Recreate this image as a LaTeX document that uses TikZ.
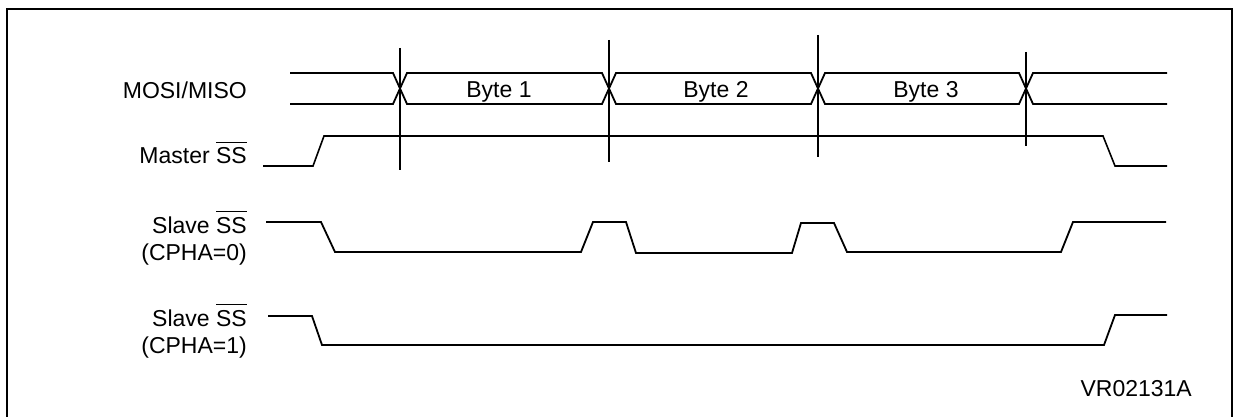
\documentclass[tikz,border=0pt]{standalone}
\usepackage{fontspec}
\setmainfont{Liberation Sans}
\newcommand{\ssbar}{\leavevmode\vbox{\hrule height 1.4pt\kern 4.5pt\hbox{SS}}}

\begin{document}
\begin{tikzpicture}[x=1pt, y=-1pt, line join=miter,
    sig/.style={line width=1.8pt},
    cursor/.style={line width=2.4pt},
    lbl/.style={anchor=base east, inner sep=0pt, font=\fontsize{23}{27}\selectfont},
    bytelbl/.style={anchor=base, inner sep=0pt, font=\fontsize{23}{27}\selectfont}]
  \useasboundingbox (0,0) rectangle (1237,417);
  \draw[line width=2.6pt] (7,9) rectangle (1232,440);

  \draw[sig] (290,73) -- (393,73) -- (407,104) -- (602,104) -- (616,73) -- (811,73)
    -- (825,104) -- (1019,104) -- (1033,73) -- (1167,73);
  \draw[sig] (290,104) -- (393,104) -- (407,73) -- (602,73) -- (616,104) -- (811,104)
    -- (825,73) -- (1019,73) -- (1033,104) -- (1167,104);
  \node[bytelbl] (b1) at (499,98) {Byte 1};
  \node[bytelbl] (b2) at (716,98) {Byte 2};
  \node[bytelbl] (b3) at (926,98) {Byte 3};

  \draw[cursor] (400,48) -- ++(0,122);
  \draw[cursor] (609,40) -- ++(0,122);
  \draw[cursor] (818,35) -- ++(0,122);
  \draw[cursor] (1026,52) -- ++(0,94);

  \draw[line width=1.6pt] (263,166) -- (313,166) -- (324,136) -- (1103,136) -- (1115,166) -- (1167,166);
  \draw[sig] (266,222) -- (321,222) -- (335,252) -- (581,252) -- (593,222) -- (626,222)
    -- (636,253) -- (792,253) -- (801,223) -- (834,223) -- (847,252) -- (1061,252)
    -- (1073,222) -- (1166,222);
  \draw[sig] (268,316) -- (312,316) -- (322,345) -- (1104,345) -- (1115,315) -- (1167,315);

  \node[lbl] (mosi) at (247,99) {MOSI/MISO};
  \node[lbl] (mss) at (247,164) {Master \ssbar};
  \node[lbl] (sss0) at (247,233) {Slave \ssbar};
  \node[lbl] (cpha0) at (247,260) {(CPHA=0)};
  \node[lbl] (sss1) at (247,326) {Slave \ssbar};
  \node[lbl] (cpha1) at (247,353) {(CPHA=1)};
  \node[lbl] (ref) at (1192,396) {VR02131A};
\end{tikzpicture}
\end{document}
